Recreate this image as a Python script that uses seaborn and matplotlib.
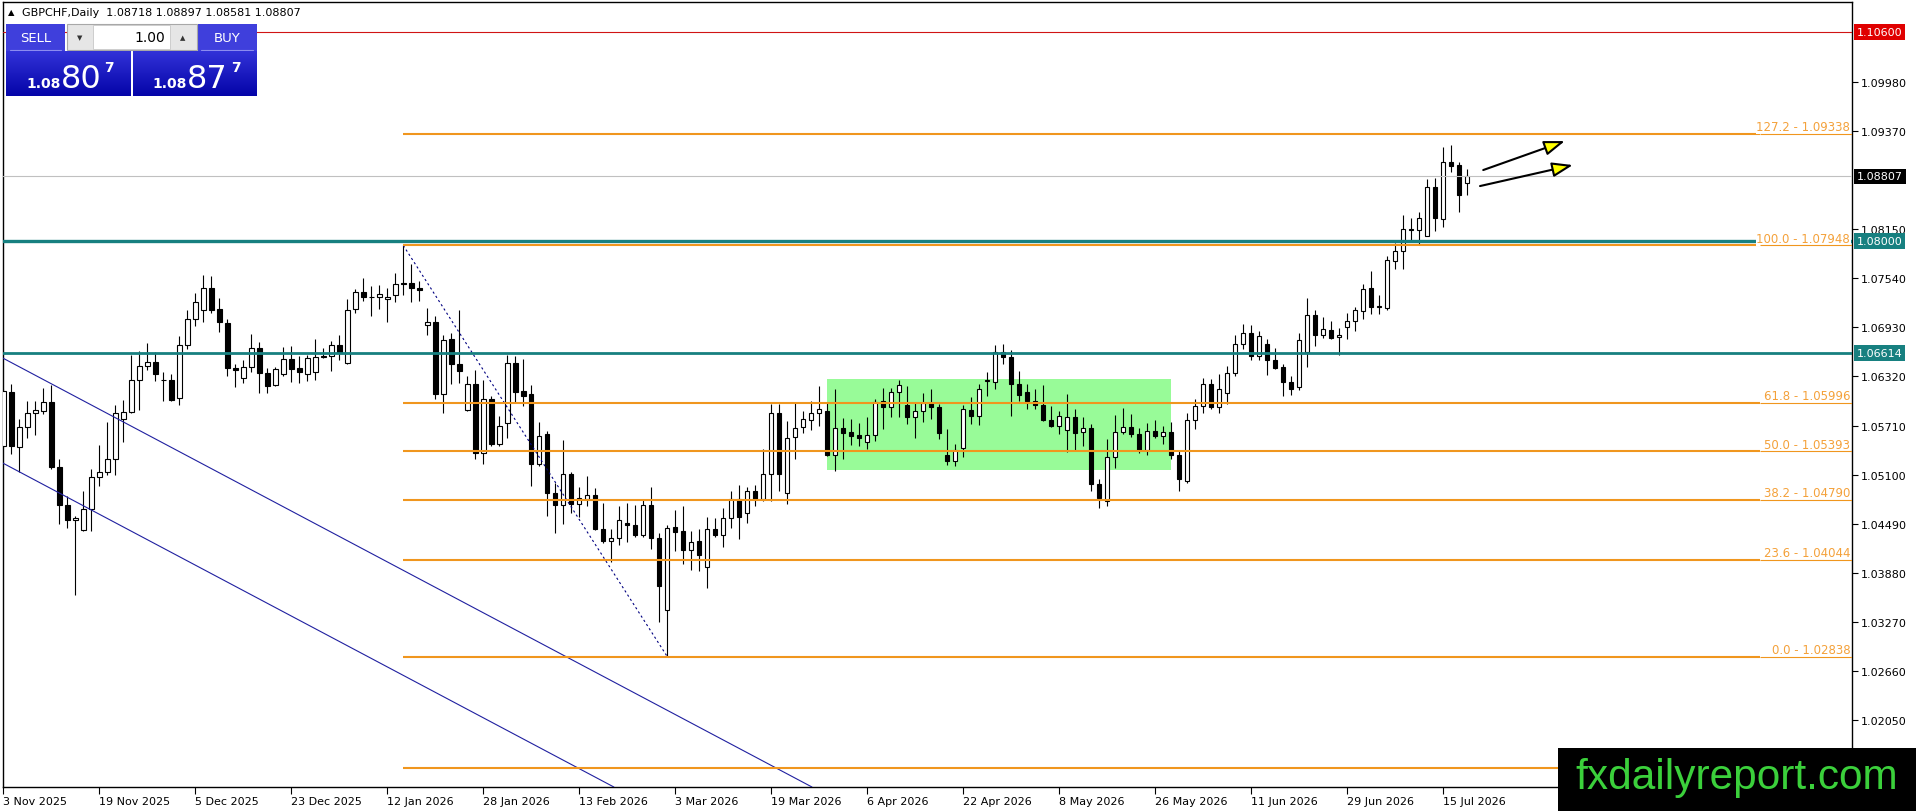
import numpy as np
import pandas as pd
import matplotlib
matplotlib.use('Agg')
import matplotlib.pyplot as plt
import matplotlib.transforms as mtransforms
from matplotlib.patches import Rectangle, FancyArrowPatch
from matplotlib.colors import LinearSegmentedColormap
import seaborn as sns

# GBPCHF diario - OHLC (uma barra por dia util, 3 Nov 2025 -> 20 Jul 2026)
opens = [1.0546, 1.0613, 1.0544, 1.0569, 1.0586, 1.0589, 1.0600, 1.0519, 1.0472, 1.0453,
         1.0441, 1.0467, 1.0507, 1.0513, 1.0530, 1.0579, 1.0588, 1.0627, 1.0645, 1.0650,
         1.0627, 1.0627, 1.0605, 1.0671, 1.0704, 1.0715, 1.0742, 1.0716, 1.0698, 1.0642,
         1.0630, 1.0644, 1.0667, 1.0636, 1.0621, 1.0635, 1.0654, 1.0642, 1.0635, 1.0638,
         1.0656, 1.0658, 1.0671, 1.0649, 1.0716, 1.0737, 1.0731, 1.0731, 1.0728, 1.0733,
         1.0748, 1.0748, 1.0742, 1.0696, 1.0700, 1.0610, 1.0679, 1.0647, 1.0590, 1.0622,
         1.0537, 1.0604, 1.0548, 1.0574, 1.0649, 1.0614, 1.0610, 1.0523, 1.0561, 1.0487,
         1.0472, 1.0511, 1.0473, 1.0480, 1.0485, 1.0442, 1.0427, 1.0431, 1.0450, 1.0448,
         1.0435, 1.0472, 1.0431, 1.0342, 1.0445, 1.0440, 1.0416, 1.0428, 1.0395, 1.0443,
         1.0435, 1.0456, 1.0480, 1.0462, 1.0490, 1.0480, 1.0511, 1.0586, 1.0487, 1.0557,
         1.0569, 1.0578, 1.0586, 1.0589, 1.0534, 1.0568, 1.0563, 1.0559, 1.0550, 1.0559,
         1.0601, 1.0594, 1.0613, 1.0596, 1.0581, 1.0589, 1.0599, 1.0594, 1.0534, 1.0527,
         1.0543, 1.0590, 1.0583, 1.0626, 1.0625, 1.0662, 1.0656, 1.0623, 1.0613, 1.0601,
         1.0597, 1.0578, 1.0570, 1.0565, 1.0581, 1.0563, 1.0568, 1.0498, 1.0477, 1.0532,
         1.0563, 1.0569, 1.0560, 1.0540, 1.0564, 1.0558, 1.0563, 1.0534, 1.0502, 1.0578,
         1.0595, 1.0622, 1.0594, 1.0611, 1.0636, 1.0672, 1.0686, 1.0658, 1.0672, 1.0653,
         1.0644, 1.0625, 1.0619, 1.0663, 1.0708, 1.0684, 1.0690, 1.0681, 1.0694, 1.0701,
         1.0713, 1.0742, 1.0719, 1.0717, 1.0776, 1.0788, 1.0815, 1.0814, 1.0807, 1.0868,
         1.0828, 1.0898, 1.0895, 1.08718]
highs = [1.0617, 1.0623, 1.0579, 1.0601, 1.0601, 1.0618, 1.0621, 1.0529, 1.0484, 1.0459,
         1.0490, 1.0517, 1.0547, 1.0575, 1.0597, 1.0603, 1.0659, 1.0664, 1.0673, 1.0662,
         1.0638, 1.0635, 1.0682, 1.0715, 1.0736, 1.0758, 1.0757, 1.0729, 1.0704, 1.0647,
         1.0652, 1.0685, 1.0675, 1.0642, 1.0644, 1.0668, 1.0670, 1.0658, 1.0659, 1.0679,
         1.0667, 1.0676, 1.0683, 1.0728, 1.0741, 1.0754, 1.0745, 1.0746, 1.0742, 1.0761,
         1.07948, 1.0772, 1.0751, 1.0717, 1.0707, 1.0684, 1.0686, 1.0714, 1.0632, 1.0640,
         1.0627, 1.0608, 1.0583, 1.0659, 1.0658, 1.0654, 1.0621, 1.0576, 1.0564, 1.0500,
         1.0553, 1.0513, 1.0495, 1.0508, 1.0493, 1.0475, 1.0443, 1.0471, 1.0475, 1.0472,
         1.0478, 1.0495, 1.0437, 1.0448, 1.0466, 1.0471, 1.0440, 1.0443, 1.0457, 1.0456,
         1.0468, 1.0490, 1.0497, 1.0495, 1.0497, 1.0542, 1.0598, 1.0598, 1.0577, 1.0599,
         1.0589, 1.0602, 1.0620, 1.0600, 1.0616, 1.0580, 1.0579, 1.0574, 1.0581, 1.0604,
         1.0618, 1.0618, 1.0628, 1.0620, 1.0600, 1.0611, 1.0616, 1.0598, 1.0567, 1.0548,
         1.0596, 1.0606, 1.0623, 1.0638, 1.0671, 1.0672, 1.0665, 1.0639, 1.0622, 1.0616,
         1.0621, 1.0595, 1.0589, 1.0610, 1.0592, 1.0581, 1.0573, 1.0504, 1.0554, 1.0584,
         1.0593, 1.0585, 1.0568, 1.0574, 1.0578, 1.0571, 1.0576, 1.0539, 1.0587, 1.0604,
         1.0630, 1.0629, 1.0635, 1.0645, 1.0684, 1.0697, 1.0696, 1.0688, 1.0678, 1.0667,
         1.0648, 1.0633, 1.0686, 1.0730, 1.0714, 1.0706, 1.0701, 1.0692, 1.0711, 1.0718,
         1.0747, 1.0763, 1.0733, 1.0782, 1.0798, 1.0833, 1.0829, 1.0836, 1.0877, 1.0878,
         1.0917, 1.0919, 1.0898, 1.08897]
lows = [1.0544, 1.0536, 1.0513, 1.0556, 1.0559, 1.0585, 1.0517, 1.0449, 1.0444, 1.0360,
        1.0440, 1.0440, 1.0496, 1.0509, 1.0509, 1.0551, 1.0587, 1.0590, 1.0640, 1.0626,
        1.0602, 1.0602, 1.0596, 1.0666, 1.0695, 1.0700, 1.0711, 1.0687, 1.0633, 1.0619,
        1.0624, 1.0637, 1.0611, 1.0611, 1.0620, 1.0632, 1.0625, 1.0624, 1.0626, 1.0627,
        1.0655, 1.0639, 1.0652, 1.0647, 1.0711, 1.0726, 1.0707, 1.0716, 1.0700, 1.0724,
        1.0733, 1.0725, 1.0726, 1.0683, 1.0604, 1.0586, 1.0622, 1.0624, 1.0589, 1.0529,
        1.0523, 1.0545, 1.0545, 1.0556, 1.0600, 1.0595, 1.0496, 1.0521, 1.0459, 1.0437,
        1.0449, 1.0462, 1.0457, 1.0471, 1.0441, 1.0425, 1.0402, 1.0423, 1.0426, 1.0433,
        1.0433, 1.0418, 1.0327, 1.02838, 1.0415, 1.0399, 1.0392, 1.0390, 1.0369, 1.0433,
        1.0420, 1.0444, 1.0430, 1.0450, 1.0471, 1.0477, 1.0477, 1.0490, 1.0474, 1.0529,
        1.0562, 1.0566, 1.0570, 1.0533, 1.0515, 1.0529, 1.0547, 1.0546, 1.0542, 1.0552,
        1.0567, 1.0582, 1.0581, 1.0573, 1.0556, 1.0575, 1.0579, 1.0554, 1.0522, 1.0521,
        1.0532, 1.0573, 1.0572, 1.0608, 1.0616, 1.0647, 1.0583, 1.0601, 1.0592, 1.0592,
        1.0577, 1.0569, 1.0561, 1.0538, 1.0539, 1.0546, 1.0490, 1.0469, 1.0471, 1.0518,
        1.0560, 1.0557, 1.0537, 1.0534, 1.0556, 1.0548, 1.0529, 1.0490, 1.0500, 1.0567,
        1.0587, 1.0592, 1.0586, 1.0598, 1.0633, 1.0666, 1.0652, 1.0652, 1.0634, 1.0641,
        1.0608, 1.0609, 1.0615, 1.0644, 1.0670, 1.0680, 1.0679, 1.0659, 1.0679, 1.0688,
        1.0704, 1.0710, 1.0709, 1.0715, 1.0766, 1.0765, 1.0801, 1.0797, 1.0806, 1.0813,
        1.0818, 1.0886, 1.0836, 1.08581]
closes = [1.0614, 1.0545, 1.0569, 1.0587, 1.0590, 1.0600, 1.0519, 1.0472, 1.0453, 1.0456,
          1.0467, 1.0507, 1.0513, 1.0530, 1.0587, 1.0588, 1.0627, 1.0645, 1.0650, 1.0635,
          1.0627, 1.0603, 1.0671, 1.0704, 1.0724, 1.0742, 1.0715, 1.0700, 1.0642, 1.0640,
          1.0644, 1.0667, 1.0636, 1.0620, 1.0641, 1.0654, 1.0641, 1.0637, 1.0655, 1.0656,
          1.0658, 1.0671, 1.0661, 1.0715, 1.0737, 1.0731, 1.0731, 1.0734, 1.0731, 1.0747,
          1.0747, 1.0742, 1.0739, 1.0700, 1.0610, 1.0677, 1.0647, 1.0639, 1.0622, 1.0537,
          1.0604, 1.0548, 1.0571, 1.0649, 1.0613, 1.0608, 1.0523, 1.0558, 1.0487, 1.0472,
          1.0511, 1.0473, 1.0481, 1.0485, 1.0442, 1.0427, 1.0431, 1.0454, 1.0447, 1.0435,
          1.0472, 1.0431, 1.0371, 1.0444, 1.0439, 1.0416, 1.0426, 1.0410, 1.0443, 1.0435,
          1.0456, 1.0480, 1.0457, 1.0490, 1.0480, 1.0511, 1.0586, 1.0511, 1.0555, 1.0568,
          1.0579, 1.0587, 1.0592, 1.0534, 1.0568, 1.0562, 1.0558, 1.0555, 1.0559, 1.0600,
          1.0594, 1.0613, 1.0621, 1.0581, 1.0589, 1.0599, 1.0594, 1.0562, 1.0527, 1.0541,
          1.0592, 1.0583, 1.0617, 1.0627, 1.0662, 1.0656, 1.0623, 1.0609, 1.0601, 1.0596,
          1.0578, 1.0570, 1.0583, 1.0581, 1.0562, 1.0568, 1.0498, 1.0481, 1.0532, 1.0563,
          1.0569, 1.0560, 1.0540, 1.0564, 1.0558, 1.0563, 1.0534, 1.0505, 1.0578, 1.0595,
          1.0622, 1.0594, 1.0617, 1.0636, 1.0672, 1.0686, 1.0658, 1.0682, 1.0652, 1.0643,
          1.0625, 1.0617, 1.0677, 1.0708, 1.0684, 1.0691, 1.0680, 1.0684, 1.0701, 1.0715,
          1.0741, 1.0718, 1.0718, 1.0777, 1.0788, 1.0815, 1.0814, 1.0829, 1.0868, 1.0829,
          1.0898, 1.0894, 1.0857, 1.08807]

# eixo das datas (um rotulo a cada 12 barras)
date_ticks = [0, 12, 24, 36, 48, 60, 72, 84, 96, 108, 120, 132, 144, 156, 168, 180]
date_labels = ['3 Nov 2025', '19 Nov 2025', '5 Dec 2025', '23 Dec 2025', '12 Jan 2026',
               '28 Jan 2026', '13 Feb 2026', '3 Mar 2026', '19 Mar 2026', '6 Apr 2026',
               '22 Apr 2026', '8 May 2026', '26 May 2026', '11 Jun 2026', '29 Jun 2026',
               '15 Jul 2026']

# escala de precos visivel (1.08760 e 1.01440 ficam escondidos no original)
price_ticks = [1.02050, 1.02660, 1.03270, 1.03880, 1.04490, 1.05100, 1.05710,
               1.06320, 1.06930, 1.07540, 1.08150, 1.09370, 1.09980]

# Fibonacci do topo de janeiro ate o fundo de fevereiro
fib_levels = [127.2, 100.0, 61.8, 50.0, 38.2, 23.6, 0.0, -27.2]
fib_prices = [1.09338, 1.07948, 1.05996, 1.05393, 1.04790, 1.04044, 1.02838, 1.01448]
fib_start = 50
fib_trend_x = [50, 83]
fib_trend_y = [1.07948, 1.02838]

# canal de baixa (dois pontos por linha)
channel_upper = [(0, 1.06545), (100, 1.01275)]
channel_lower = [(0, 1.05240), (100, 0.99970)]

# retangulo de consolidacao
box_x = [103, 146]
box_y = [1.05157, 1.06288]

level_red = 1.10600
level_teal = [1.08000, 1.06614]

# setas de alta
arrows = [[(185.0, 1.08885), (195.2, 1.09245)],
          [(184.6, 1.08686), (196.2, 1.08947)]]

sns.set_theme(style='white')
plt.rcParams['font.family'] = ['DejaVu Sans']

W, H = 1916, 812
fig = plt.figure(figsize=(W / 100, H / 100), dpi=100)
fig.patch.set_facecolor('white')
ax = fig.add_axes([2.7 / W, (H - 788) / H, (1852 - 2.7) / W, (788 - 2.7) / H])
ax.set_facecolor('white')

df = pd.DataFrame({'o': opens, 'h': highs, 'l': lows, 'c': closes})
df['x'] = np.arange(len(df))
up = df['c'] >= df['o']

fib_col = '#F0961E'
teal = '#178080'

ax.add_patch(Rectangle((box_x[0], box_y[0]), box_x[1] - box_x[0], box_y[1] - box_y[0],
                       facecolor='#98FB98', edgecolor='none', zorder=1))

# candles
ax.vlines(df['x'], df['l'], df['h'], color='black', lw=0.8, zorder=3)
body = (df['c'] - df['o']).abs().clip(lower=0.00002)
ax.bar(df['x'], body, bottom=df[['o', 'c']].min(axis=1), width=0.55,
       color=np.where(up, 'white', 'black'), edgecolor='black', linewidth=0.8, zorder=4)

# linhas horizontais
ax.axhline(level_red, color='#D01515', lw=0.8, zorder=5)
ax.axhline(df['c'].iloc[-1], color='#C0C0C0', lw=0.8, zorder=5)

for p, lw in zip(level_teal, [2.4, 2.0]):
    ax.axhline(p, color=teal, lw=lw, zorder=6)

x_right = 231.1
x_lab = 219.6
trans_r = mtransforms.blended_transform_factory(ax.transAxes, ax.transData)
for lvl, p in zip(fib_levels, fib_prices):
    ax.hlines(p, fib_start, x_lab, color=fib_col, lw=1.5, zorder=6)
    ax.hlines(p, x_lab, x_right, color=fib_col, lw=0.8, zorder=8)
    if lvl < 0:
        continue  # rotulo coberto pela marca d'agua
    ax.text(0.999, p + 0.00006, f'{lvl:.1f} - {p:.5f}', transform=trans_r, ha='right',
            va='bottom', color='#F4A13A', fontsize=8.5, zorder=7,
            bbox=dict(boxstyle='square,pad=0.05', fc='white', ec='none'))

ax.axline(channel_upper[0], channel_upper[1], color='#2020A0', lw=0.8, zorder=5)
ax.axline(channel_lower[0], channel_lower[1], color='#2020A0', lw=0.8, zorder=5)

sns.lineplot(x=fib_trend_x, y=fib_trend_y, ax=ax, color='#000080', lw=0.8,
             linestyle=(0, (2, 2.5)), zorder=5)

for p0, p1 in arrows:
    ax.add_patch(FancyArrowPatch(p0, p1, arrowstyle='-|>,head_length=0.9,head_width=0.32',
                                 mutation_scale=14, facecolor='#FFFF00', edgecolor='black',
                                 lw=1.5, zorder=8, shrinkA=0, shrinkB=0))

ax.set_xlim(-0.08, x_right)
ax.set_ylim(1.01218, 1.10977)
ax.set_xticks(date_ticks)
ax.set_xticklabels(date_labels, ha='left', fontsize=8)
ax.tick_params(axis='x', bottom=True, direction='out', length=5, width=0.8, pad=1.5,
               colors='black')
ax.yaxis.tick_right()
ax.set_yticks(price_ticks)
ax.set_yticklabels([f'{v:.5f}' for v in price_ticks], fontsize=8)
ax.tick_params(axis='y', left=False, right=True, labelright=True, labelleft=False,
               direction='out', length=4, width=0.8, pad=2.5, colors='black')
ax.set_xlabel('')
ax.set_ylabel('')
ax.grid(False)
for s in ax.spines.values():
    s.set_visible(True)
    s.set_color('black')
    s.set_linewidth(1.0)

# etiquetas de preco no eixo direito
tags = [(level_red, '#E00000'), (df['c'].iloc[-1], 'black'),
        (level_teal[0], teal), (level_teal[1], teal)]
for p, fc in tags:
    ax.text(1.0026, p, f'{p:.5f}', transform=trans_r, ha='left', va='center', fontsize=8,
            color='white', clip_on=False, zorder=10,
            bbox=dict(boxstyle='square,pad=0.25', fc=fc, ec='none'))

# sobreposicao em pixels: cabecalho, painel de negociacao e marca d'agua
ov = fig.add_axes([0, 0, 1, 1], zorder=10)
ov.patch.set_alpha(0)
ov.axis('off')

ov.text(11, 13, '\u25b2', fontsize=6, ha='center', va='center', color='black')
ov.text(22, 13, f'GBPCHF,Daily  {opens[-1]:.5f} {highs[-1]:.5f} {lows[-1]:.5f} {closes[-1]:.5f}',
        fontsize=8, ha='left', va='center', color='black')

btn = '#3F3FDC'
ov.add_patch(Rectangle((6, 25), 59, 27, fc=btn, ec='none'))
ov.add_patch(Rectangle((198, 25), 59, 27, fc=btn, ec='none'))
ov.plot([10, 61], [51, 51], color='#8C8CF0', lw=0.8)
ov.plot([201, 253], [51, 51], color='#8C8CF0', lw=0.8)
ov.text(35.5, 39, 'SELL', color='white', fontsize=9.5, ha='center', va='center')
ov.text(227.5, 39, 'BUY', color='white', fontsize=9.5, ha='center', va='center')
ov.add_patch(Rectangle((67, 25), 130, 26, fc='#E6E6E6', ec='#A8A8A8', lw=0.8))
ov.add_patch(Rectangle((93, 26), 77, 24, fc='white', ec='#C8C8C8', lw=0.6))
ov.text(80, 38, '\u25bc', fontsize=5, ha='center', va='center', color='#333333')
ov.text(183, 38, '\u25b2', fontsize=5, ha='center', va='center', color='#333333')
ov.text(165, 38.5, '1.00', fontsize=10, ha='right', va='center', color='black')

grad = LinearSegmentedColormap.from_list('g', ['#3232D8', '#0404A8'])
g = np.linspace(0, 1, 60).reshape(-1, 1)
ov.imshow(g, extent=(6, 131, 97, 52), cmap=grad, aspect='auto', zorder=2)
ov.imshow(g, extent=(133, 257, 97, 52), cmap=grad, aspect='auto', zorder=2)
ov.text(26, 88, '1.08', color='white', fontsize=10, fontweight='bold', ha='left', va='baseline', zorder=3)
ov.text(61, 88, '80', color='white', fontsize=23, ha='left', va='baseline', zorder=3)
ov.text(104, 72, '7', color='white', fontsize=10, fontweight='bold', ha='left', va='baseline', zorder=3)
ov.text(152, 88, '1.08', color='white', fontsize=10, fontweight='bold', ha='left', va='baseline', zorder=3)
ov.text(187, 88, '87', color='white', fontsize=23, ha='left', va='baseline', zorder=3)
ov.text(231, 72, '7', color='white', fontsize=10, fontweight='bold', ha='left', va='baseline', zorder=3)

ov.add_patch(Rectangle((1558, 749), 358, 63, fc='black', ec='none', zorder=4))
ov.text(1737, 789, 'fxdailyreport.com', color='#3BD03B', fontsize=30.5,
        family='Liberation Sans', ha='center', va='baseline', zorder=5)

ov.set_xlim(0, W)
ov.set_ylim(H, 0)

fig.savefig('out.png', dpi=100)
